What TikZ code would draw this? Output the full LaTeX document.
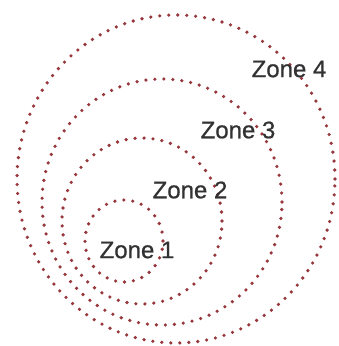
\documentclass[tikz,border=0pt]{standalone}
\usepackage{fontspec}
\setmainfont{Liberation Sans}
\newfontfamily\zonefont[FakeBold=0.8]{Liberation Sans}
\definecolor{dotred}{RGB}{150,55,60}
\definecolor{zonegray}{RGB}{50,50,52}
\tikzset{zoneline/.style={dotred,line width=3.6pt,line cap=round,dash pattern=on 0pt off 9pt},
  zonelabel/.style={text=zonegray,inner sep=0pt,font=\zonefont\fontsize{24}{28}\selectfont}}

\begin{document}
\begin{tikzpicture}[x=1pt,y=-1pt]
\useasboundingbox (0,0) rectangle (338,346);
\coordinate (C1) at (124,241); \coordinate (C2) at (142,221); \coordinate (C3) at (162,202); \coordinate (C4) at (176,179);
\foreach \c/\rx/\ry in {C1/39/41,C2/80/83,C3/120/123,C4/159/164}{\draw[zoneline] (\c) ellipse ({\rx pt} and {\ry pt});}
\node[zonelabel] (z1) at (137,250) {Zone 1};
\node[zonelabel] (z2) at (190,190) {Zone 2};
\node[zonelabel] (z3) at (238,130) {Zone 3};
\node[zonelabel] (z4) at (289,69) {Zone 4};
\end{tikzpicture}
\end{document}
